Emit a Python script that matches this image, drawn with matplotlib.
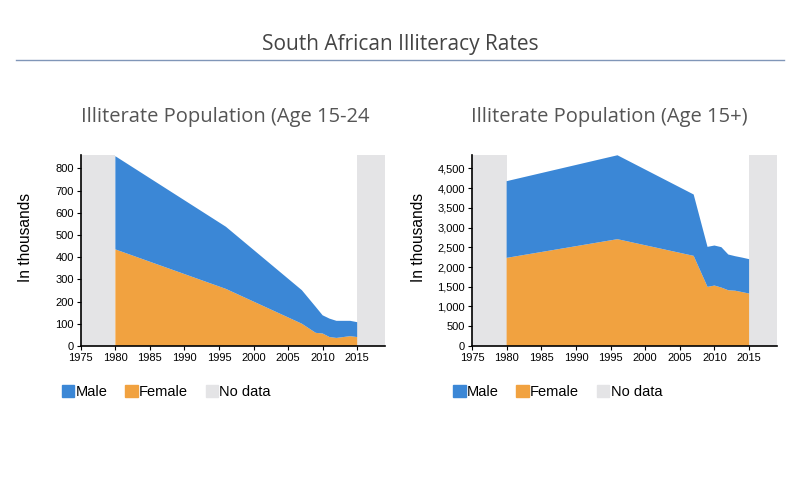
import matplotlib.pyplot as plt
from matplotlib.patches import Patch
from matplotlib.ticker import FuncFormatter

# data (thousands)
years = [1980, 1996, 2007, 2009, 2010, 2011, 2012, 2013, 2014, 2015]
female_1524 = [435, 257, 100, 59, 56, 40, 36, 40, 44, 40]
total_1524 = [855, 537, 251, 176, 138, 123, 113, 113, 113, 107]
female_15p = [2233, 2707, 2284, 1497, 1531, 1480, 1412, 1400, 1365, 1328]
total_15p = [4178, 4835, 3840, 2512, 2546, 2504, 2318, 2275, 2240, 2200]

male_1524 = [t - f for t, f in zip(total_1524, female_1524)]
male_15p = [t - f for t, f in zip(total_15p, female_15p)]

nodata_spans = [(1975, 1980), (2015, 2019)]
xticks = [1975, 1980, 1985, 1990, 1995, 2000, 2005, 2010, 2015]

c_male = '#3b87d6'
c_female = '#f1a240'
c_nodata = '#e4e4e6'

plt.rcParams['font.family'] = ['Liberation Sans', 'DejaVu Sans']

fig = plt.figure(figsize=(8, 4.97), dpi=100)

fig.text(0.5, 0.911, 'South African Illiteracy Rates', ha='center', va='center',
         fontsize=15, color='#444444', family='Open Sans')
fig.add_artist(plt.Line2D([0.02, 0.98], [0.879, 0.879], color='#8096b8', lw=1))


def draw(ax, female, male, ymax, yticks, title, title_x, pad):
    for a, b in nodata_spans:
        ax.axvspan(a, b, color=c_nodata, lw=0)
    ax.stackplot(years, female, male, colors=[c_female, c_male], lw=0)
    ax.set_xlim(1975, 2019)
    ax.set_ylim(0, ymax)
    ax.set_xticks(xticks)
    ax.set_yticks(yticks)
    ax.yaxis.set_major_formatter(FuncFormatter(lambda v, p: f'{int(v):,}'))
    ax.tick_params(labelsize=8, length=3, color='black', pad=2)
    for s in ['top', 'right']:
        ax.spines[s].set_visible(False)
    ax.spines['left'].set_linewidth(1.2)
    ax.spines['bottom'].set_linewidth(1.2)
    ax.set_ylabel('In thousands', fontsize=11.2, labelpad=pad)
    ax.yaxis.label.set_y(0.57)
    fig.text(title_x, 0.764, title, ha='center', va='center', fontsize=14.5,
             color='#555555', family='Open Sans')
    handles = [Patch(color=c_male, label='Male'),
               Patch(color=c_female, label='Female'),
               Patch(color=c_nodata, label='No data')]
    ax.legend(handles=handles, ncol=3, frameon=False, loc='upper left',
              bbox_to_anchor=(-0.105, -0.135), fontsize=10.5, handlelength=0.85,
              handleheight=0.85, handletextpad=0.1, columnspacing=1.2)


ax1 = fig.add_axes([0.101, 0.304, 0.38, 0.384])
draw(ax1, female_1524, male_1524, 860, range(0, 801, 100),
     'Illiterate Population (Age 15-24', 0.282, 16)

ax2 = fig.add_axes([0.59, 0.304, 0.381, 0.384])
draw(ax2, female_15p, male_15p, 4840, range(0, 4501, 500),
     'Illiterate Population (Age 15+)', 0.762, 8.5)

fig.savefig('out.png', dpi=100)
